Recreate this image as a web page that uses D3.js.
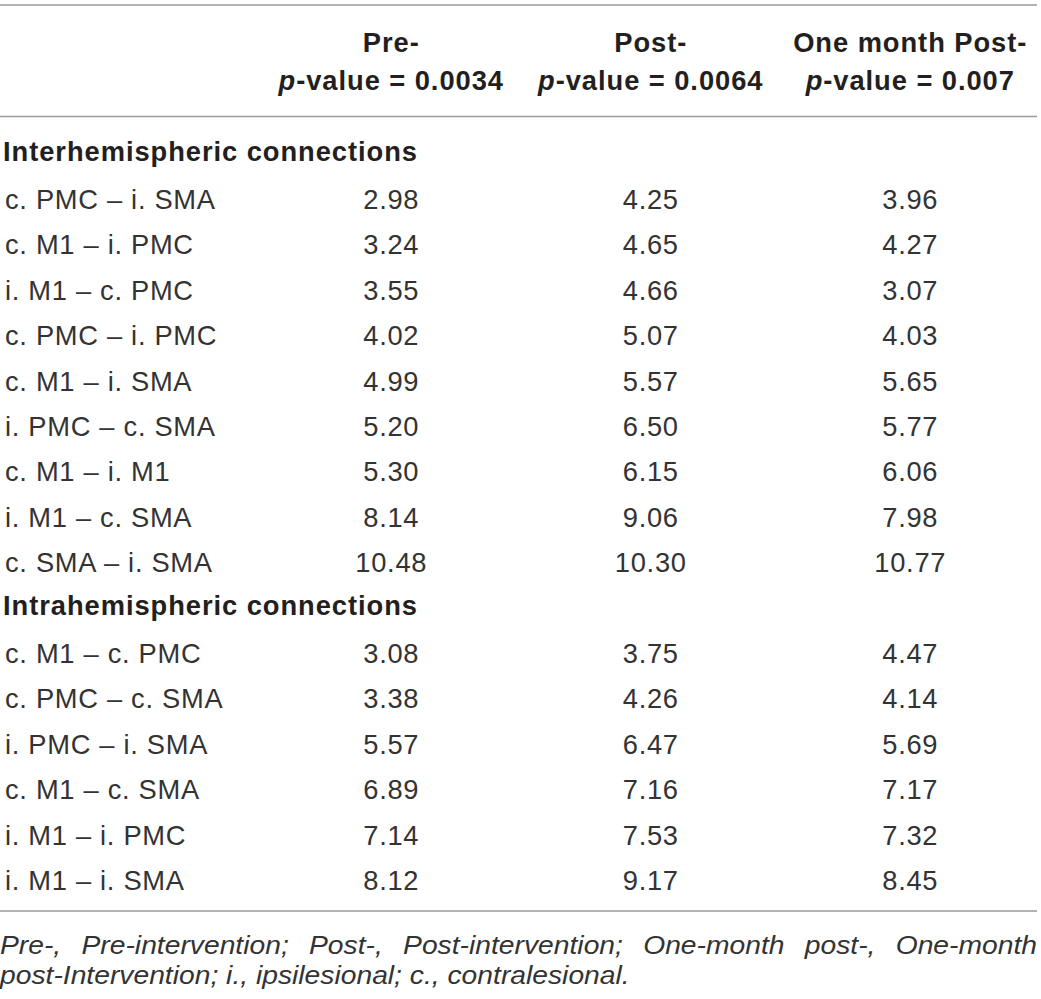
<!DOCTYPE html>
<html><head><meta charset="utf-8">
<script src="https://cdn.jsdelivr.net/npm/d3@7"></script>
<style>
html,body{margin:0;padding:0;background:#fff;}
svg{display:block;}
</style></head>
<body>
<svg id="chart" width="1041" height="999"></svg>
<script>
const columns = ["Pre-", "Post-", "One month Post-"];
const pValues = ["0.0034", "0.0064", "0.007"];
const sections = ["Interhemispheric connections", "Intrahemispheric connections"];

const interLabels = ["c. PMC – i. SMA","c. M1 – i. PMC","i. M1 – c. PMC","c. PMC – i. PMC","c. M1 – i. SMA","i. PMC – c. SMA","c. M1 – i. M1","i. M1 – c. SMA","c. SMA – i. SMA"];
const interPre  = ["2.98","3.24","3.55","4.02","4.99","5.20","5.30","8.14","10.48"];
const interPost = ["4.25","4.65","4.66","5.07","5.57","6.50","6.15","9.06","10.30"];
const interOne  = ["3.96","4.27","3.07","4.03","5.65","5.77","6.06","7.98","10.77"];

const intraLabels = ["c. M1 – c. PMC","c. PMC – c. SMA","i. PMC – i. SMA","c. M1 – c. SMA","i. M1 – i. PMC","i. M1 – i. SMA"];
const intraPre  = ["3.08","3.38","5.57","6.89","7.14","8.12"];
const intraPost = ["3.75","4.26","6.47","7.16","7.53","9.17"];
const intraOne  = ["4.47","4.14","5.69","7.17","7.32","8.45"];

const footLine1 = "Pre-, Pre-intervention; Post-, Post-intervention; One-month post-, One-month";
const footLine2 = "post-Intervention; i., ipsilesional; c., contralesional.";

const svg = d3.select("#chart");
const font = "'Liberation Sans', Arial, Helvetica, sans-serif";
const fs = 27.3, ls = 0.7, lsB = 0.95;

const x = d3.scaleBand().domain(columns).range([261.5, 1040]);
const cx = c => x(c) + x.bandwidth() / 2;

const rows = [];
rows.push({type: "section", label: sections[0]});
interLabels.forEach((l, i) => rows.push({type: "data", label: l, vals: [interPre[i], interPost[i], interOne[i]]}));
rows.push({type: "section", label: sections[1]});
intraLabels.forEach((l, i) => rows.push({type: "data", label: l, vals: [intraPre[i], intraPost[i], intraOne[i]]}));

const y = d3.scaleLinear().domain([1, 16]).range([209, 890]);

const lineColor = "#9a9a9a";
[5, 116.5, 911].forEach(yy => {
  svg.append("line").attr("x1", 0).attr("x2", 1037).attr("y1", yy).attr("y2", yy)
    .attr("stroke", lineColor).attr("stroke-width", 1.5);
});

columns.forEach((c, i) => {
  svg.append("text").attr("x", cx(c)).attr("y", 52).attr("text-anchor", "middle")
    .attr("font-family", font).attr("font-size", fs).attr("font-weight", "bold")
    .attr("letter-spacing", lsB).attr("fill", "#231f20").text(c);
  const t = svg.append("text").attr("x", cx(c)).attr("y", 90).attr("text-anchor", "middle")
    .attr("font-family", font).attr("font-size", fs).attr("font-weight", "bold")
    .attr("letter-spacing", lsB).attr("fill", "#231f20");
  t.append("tspan").attr("font-style", "italic").text("p");
  t.append("tspan").text("-value = " + pValues[i]);
});

rows.forEach((r, i) => {
  if (r.type === "section") {
    svg.append("text").attr("x", 3).attr("y", y(i) - 2.5)
      .attr("font-family", font).attr("font-size", fs).attr("font-weight", "bold")
      .attr("letter-spacing", lsB).attr("fill", "#231f20").text(r.label);
  } else {
    svg.append("text").attr("x", 5).attr("y", y(i))
      .attr("font-family", font).attr("font-size", fs)
      .attr("letter-spacing", ls).attr("fill", "#333").text(r.label);
    r.vals.forEach((v, j) => {
      svg.append("text").attr("x", cx(columns[j])).attr("y", y(i)).attr("text-anchor", "middle")
        .attr("font-family", font).attr("font-size", fs)
        .attr("letter-spacing", ls).attr("fill", "#333").text(v);
    });
  }
});

const g = svg.append("g");
const ffs = 26;
const f2 = g.append("text").attr("x", 0).attr("y", 984)
  .attr("font-family", font).attr("font-size", ffs).attr("font-style", "italic")
  .attr("fill", "#333").text(footLine2);
const nat2 = f2.node().getComputedTextLength();
const sx = 630 / nat2;
g.attr("transform", `scale(${sx},1)`);
const f1 = g.append("text").attr("x", 0).attr("y", 954)
  .attr("font-family", font).attr("font-size", ffs).attr("font-style", "italic")
  .attr("fill", "#333").text(footLine1);
const nat1 = f1.node().getComputedTextLength();
const nSpaces = footLine1.split(" ").length - 1;
f1.attr("word-spacing", (1037 / sx - nat1) / nSpaces);
</script>
</body></html>
